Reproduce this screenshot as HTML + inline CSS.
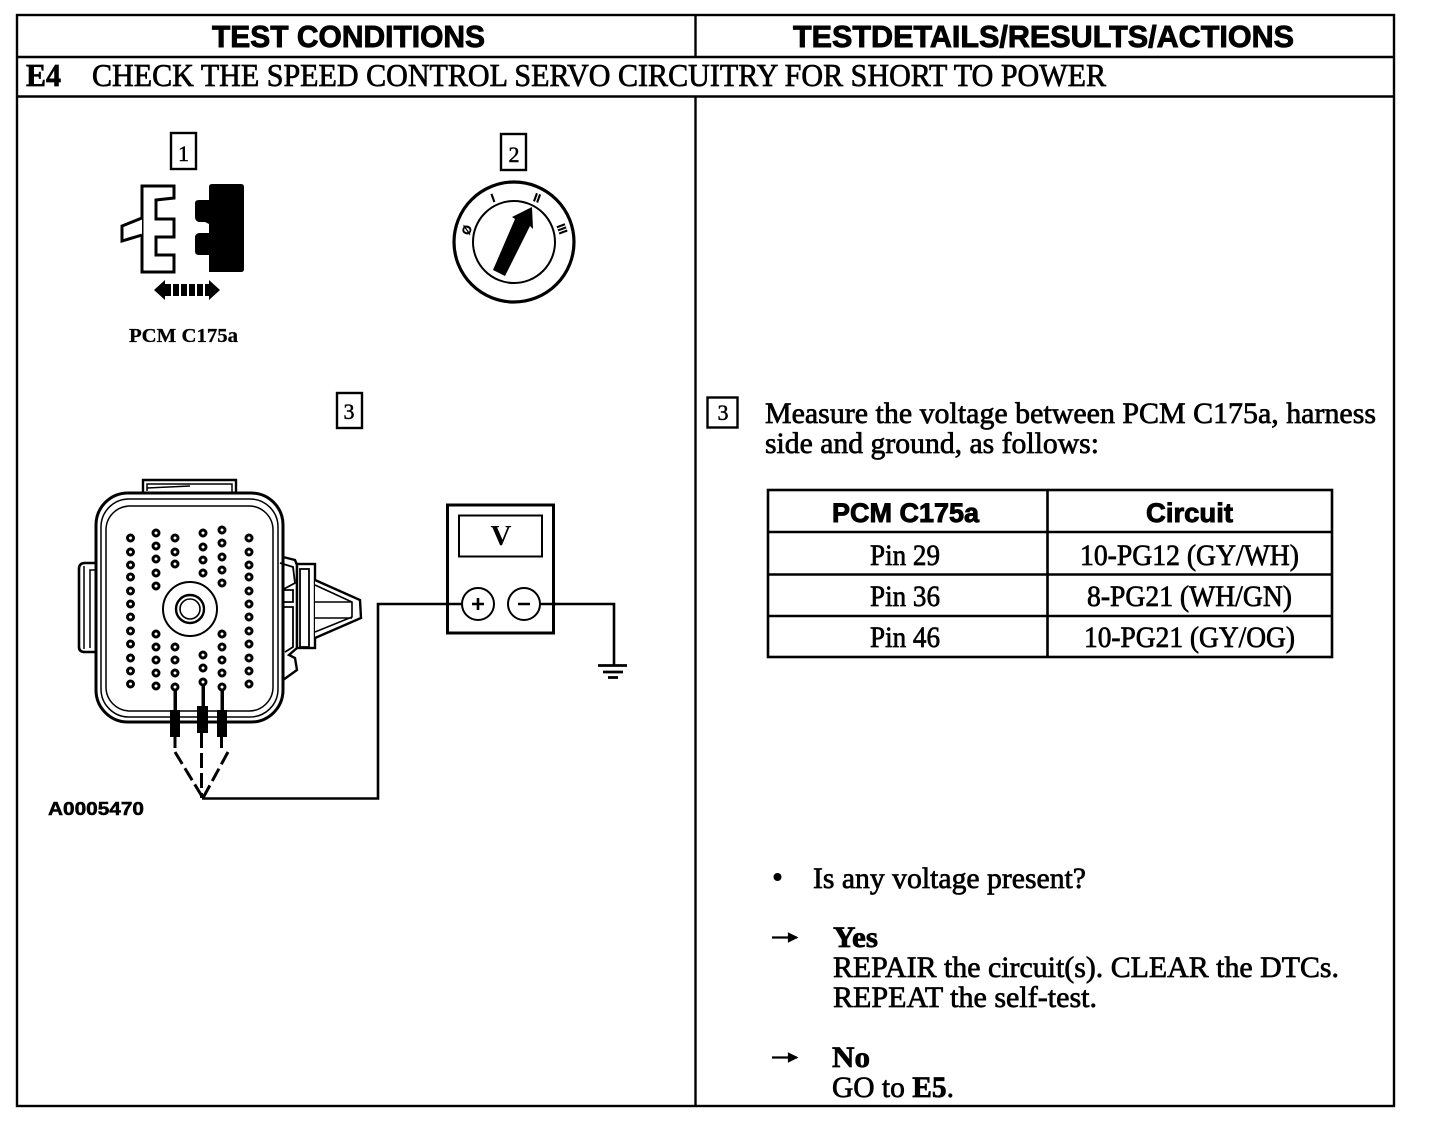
<!DOCTYPE html>
<html><head><meta charset="utf-8"><style>
html,body{margin:0;padding:0;background:#fff;width:1440px;height:1124px;overflow:hidden}
svg{display:block}
.s{font-family:"Liberation Serif",serif;font-size:30px;fill:#000;stroke:#000;stroke-width:.7}
.t{font-size:31.500px}
.h{font-family:"Liberation Sans",sans-serif;font-weight:700;font-size:31px;fill:#000;stroke:#000;stroke-width:.9}
.b{font-weight:700}
.d circle{fill:#fff;stroke:#000;stroke-width:3}
</style></head><body>
<svg width="1440" height="1124" viewBox="0 0 1440 1124" xmlns="http://www.w3.org/2000/svg">
<rect width="1440" height="1124" fill="#fff"/>
<g fill="none" stroke="#000" stroke-width="2.400">
<rect x="17" y="15" width="1377" height="1091"/>
<path d="M17 57H1394M17 96.500H1394M695.500 15V57M695.500 96V1106"/>
</g>
<text class="h" x="212" y="47" textLength="273" lengthAdjust="spacingAndGlyphs">TEST CONDITIONS</text>
<text class="h" x="793" y="47" textLength="501" lengthAdjust="spacingAndGlyphs">TESTDETAILS/RESULTS/ACTIONS</text>
<text class="s t b" x="26" y="86" textLength="35" lengthAdjust="spacingAndGlyphs">E4</text>
<text class="s t" x="92" y="86" textLength="1014" lengthAdjust="spacingAndGlyphs">CHECK THE SPEED CONTROL SERVO CIRCUITRY FOR SHORT TO POWER</text>

<!-- step boxes -->
<g fill="#fff" stroke="#000" stroke-width="2.400">
<rect x="171" y="133" width="25" height="36"/>
<rect x="501" y="134" width="25" height="36"/>
<rect x="337" y="393" width="25" height="35"/>
<rect x="707.500" y="397.500" width="30" height="30"/>
</g>
<g font-family="Liberation Serif,serif" font-size="22" text-anchor="middle" fill="#000" stroke="#000" stroke-width=".5">
<text x="183.500" y="161">1</text><text x="514" y="162">2</text><text x="349" y="419">3</text><text x="723" y="420">3</text>
</g>

<!-- connector 1 -->
<path d="M142 186H174V198L156 200V219H174V237H156V255H174V272H142Z" fill="#fff" stroke="#000" stroke-width="3"/>
<path d="M142 218L122 226V241L142 235" fill="#fff" stroke="#000" stroke-width="3"/>
<path d="M212 184H241Q244 184 244 187V269Q244 272 241 272H209V255H199Q195 255 195 251V237Q195 234 199 233H209V224L205 222H199Q195 221 195 217V203Q195 200 199 200H209V187Q209 184 212 184Z" fill="#000"/>
<path d="M154 290L165 280V300ZM220 290L209 280V300Z" fill="#000"/>
<path d="M165 290H209" stroke="#000" stroke-width="12" stroke-dasharray="6 2" fill="none"/>
<text class="s b" x="129" y="342" style="font-size:20px;stroke-width:.3" textLength="109" lengthAdjust="spacingAndGlyphs">PCM C175a</text>

<!-- ignition switch -->
<circle cx="514" cy="242" r="60" fill="#fff" stroke="#000" stroke-width="3.200"/>
<circle cx="514" cy="242" r="41" fill="none" stroke="#000" stroke-width="2"/>
<path d="M493 270L515 219 512 217 532 207 533 229 530 226 505 276Z" fill="#000"/>
<g font-family="Liberation Sans,sans-serif" font-size="12" font-weight="700" text-anchor="middle" fill="#000" stroke="#000" stroke-width=".4">
<text transform="translate(467 230) rotate(-70)" x="0" y="4">Ø</text>
<text transform="translate(493 198) rotate(-20)" x="0" y="4">I</text>
<text transform="translate(537 198) rotate(20)" x="0" y="4">II</text>
<text transform="translate(562 229) rotate(70)" x="0" y="4">III</text>
</g>

<!-- large connector -->
<g fill="none" stroke="#000">
<path d="M143 493V480H236V493" stroke-width="2.400"/>
<path d="M147 491V484H232V493M147 488L190 486" stroke-width="1.500"/>
<path d="M97 563H85Q79 563 79 569V647Q79 652 85 652H97" fill="#fff" stroke-width="2.600"/>
<path d="M84 566V649M96 570H90V648" stroke-width="1.500"/>
<path d="M283 557L295 560 297 565V648L289 655 295 658 297 670 283 680Z" fill="#fff" stroke-width="2.400"/>
<rect x="96" y="493" width="187" height="229" rx="32" fill="#fff" stroke-width="3"/>
<rect x="101" y="499" width="177" height="218" rx="28" stroke-width="1.500"/>
<rect x="106" y="506" width="167" height="205" rx="24" stroke-width="1.500"/>
<!-- right side latch -->
<path d="M280 563L293 567 295 583 282 590H293V602H283M283 607H293V647L285 652" stroke-width="1.800"/>
<rect x="297" y="564" width="18" height="84" fill="#fff" stroke-width="2.400"/>
<rect x="300" y="569" width="9" height="78" stroke-width="1.800"/>
<path d="M315 580L360 600 361 618 315 638" fill="#fff" stroke-width="2.400"/>
<path d="M315 585L352 602V617L315 632M315 602H352M315 618H352" stroke-width="1.600"/>
<circle cx="190" cy="609" r="27" fill="#fff" stroke-width="2"/>
<circle cx="190" cy="609" r="14" stroke-width="2.400"/>
<circle cx="190" cy="609" r="10" stroke-width="1.600"/>
</g>
<g class="d">
<circle cx="130.500" cy="538" r="3"/><circle cx="130.500" cy="552" r="3"/><circle cx="130.500" cy="565" r="3"/><circle cx="130.500" cy="577" r="3"/><circle cx="130.500" cy="591" r="3"/><circle cx="130.500" cy="604" r="3"/><circle cx="130.500" cy="617" r="3"/><circle cx="130.500" cy="631" r="3"/><circle cx="130.500" cy="644" r="3"/><circle cx="130.500" cy="658" r="3"/><circle cx="130.500" cy="671" r="3"/><circle cx="130.500" cy="684" r="3"/>
<circle cx="156" cy="533" r="3"/><circle cx="156" cy="546" r="3"/><circle cx="156" cy="559" r="3"/><circle cx="156" cy="573" r="3"/><circle cx="156" cy="586" r="3"/><circle cx="156" cy="634" r="3"/><circle cx="156" cy="647" r="3"/><circle cx="156" cy="660" r="3"/><circle cx="156" cy="673" r="3"/><circle cx="156" cy="686" r="3"/>
<circle cx="175" cy="538" r="3"/><circle cx="175" cy="552" r="3"/><circle cx="175" cy="564" r="3"/><circle cx="175" cy="647" r="3"/><circle cx="175" cy="660" r="3"/><circle cx="175" cy="673" r="3"/><circle cx="175" cy="687" r="3"/>
<circle cx="203" cy="533" r="3"/><circle cx="203" cy="547" r="3"/><circle cx="203" cy="560" r="3"/><circle cx="203" cy="573" r="3"/><circle cx="203" cy="655" r="3"/><circle cx="203" cy="668" r="3"/><circle cx="203" cy="682" r="3"/>
<circle cx="222" cy="530" r="3"/><circle cx="222" cy="543" r="3"/><circle cx="222" cy="557" r="3"/><circle cx="222" cy="570" r="3"/><circle cx="222" cy="583" r="3"/><circle cx="222" cy="634" r="3"/><circle cx="222" cy="647" r="3"/><circle cx="222" cy="660" r="3"/><circle cx="222" cy="673" r="3"/><circle cx="222" cy="687" r="3"/>
<circle cx="249" cy="538" r="3"/><circle cx="249" cy="552" r="3"/><circle cx="249" cy="565" r="3"/><circle cx="249" cy="577" r="3"/><circle cx="249" cy="591" r="3"/><circle cx="249" cy="604" r="3"/><circle cx="249" cy="617" r="3"/><circle cx="249" cy="631" r="3"/><circle cx="249" cy="644" r="3"/><circle cx="249" cy="658" r="3"/><circle cx="249" cy="671" r="3"/><circle cx="249" cy="684" r="3"/>
</g>
<!-- probes -->
<g fill="#000" stroke="none">
<rect x="173.500" y="691" width="3.500" height="20"/><rect x="201.500" y="686" width="3.500" height="20"/><rect x="220.500" y="691" width="3.500" height="20"/>
<rect x="170" y="710" width="10" height="27"/><rect x="197" y="706" width="11" height="27"/><rect x="217" y="710" width="10" height="27"/>
</g>
<g fill="none" stroke="#000" stroke-width="3">
<path d="M175 737V748M201.500 733V798M221.500 737V748" stroke-dasharray="15 5"/>
<path d="M175 752L203 798M228 752L203 798" stroke-dasharray="14 5"/>
<path d="M202 798.500H378V604H459M540 604H614V665" stroke-width="2.600"/>
<path d="M598 665.500H627" stroke-width="2.800"/><path d="M603 672H623" stroke-width="2.800"/><path d="M608 677.500H618" stroke-width="2.800"/>
</g>
<text x="48" y="815" font-family="Liberation Sans,sans-serif" font-weight="700" font-size="18" fill="#000" stroke="#000" stroke-width=".5" textLength="96" lengthAdjust="spacingAndGlyphs">A0005470</text>

<!-- meter -->
<rect x="447.500" y="505" width="106" height="128" fill="#fff" stroke="#000" stroke-width="3"/>
<rect x="459" y="515.500" width="83" height="41" fill="#fff" stroke="#000" stroke-width="2"/>
<text x="501" y="545" font-family="Liberation Serif,serif" font-weight="700" font-size="29" text-anchor="middle" fill="#000">V</text>
<path d="M446 604H462M538 604H556" stroke="#000" stroke-width="2.600"/>
<circle cx="478" cy="604" r="16" fill="#fff" stroke="#000" stroke-width="2"/>
<circle cx="524" cy="604" r="16" fill="#fff" stroke="#000" stroke-width="2"/>
<path d="M472 604H484M478 598V610M518 604H530" stroke="#000" stroke-width="2.600"/>

<!-- right body -->
<text class="s" x="765" y="423" textLength="611" lengthAdjust="spacingAndGlyphs">Measure the voltage between PCM C175a, harness</text>
<text class="s" x="765" y="453" textLength="334" lengthAdjust="spacingAndGlyphs">side and ground, as follows:</text>

<g fill="none" stroke="#000" stroke-width="2.600">
<rect x="768" y="490" width="564" height="167"/>
<path d="M1047.500 490V657M768 532H1332M768 574.500H1332M768 616H1332"/>
</g>
<text class="h" x="832" y="522" style="font-size:27px" textLength="147" lengthAdjust="spacingAndGlyphs">PCM C175a</text>
<text class="h" x="1146" y="522" style="font-size:27px" textLength="87" lengthAdjust="spacingAndGlyphs">Circuit</text>
<text class="s" x="870" y="565" textLength="70" lengthAdjust="spacingAndGlyphs">Pin 29</text>
<text class="s" x="870" y="606" textLength="70" lengthAdjust="spacingAndGlyphs">Pin 36</text>
<text class="s" x="870" y="647" textLength="70" lengthAdjust="spacingAndGlyphs">Pin 46</text>
<text class="s" x="1080" y="565" textLength="219" lengthAdjust="spacingAndGlyphs">10-PG12 (GY/WH)</text>
<text class="s" x="1087" y="606" textLength="205" lengthAdjust="spacingAndGlyphs">8-PG21 (WH/GN)</text>
<text class="s" x="1084" y="647" textLength="211" lengthAdjust="spacingAndGlyphs">10-PG21 (GY/OG)</text>

<circle cx="777.500" cy="877" r="4" fill="#000"/>
<text class="s" x="813" y="888" textLength="273" lengthAdjust="spacingAndGlyphs">Is any voltage present?</text>
<path d="M772 937.500H797M796 937.500L789 934V941Z" stroke="#000" stroke-width="2.200" fill="#000"/>
<text class="s b" x="833" y="947" textLength="45" lengthAdjust="spacingAndGlyphs">Yes</text>
<text class="s" x="833" y="977" textLength="506" lengthAdjust="spacingAndGlyphs">REPAIR the circuit(s). CLEAR the DTCs.</text>
<text class="s" x="833" y="1007" textLength="264" lengthAdjust="spacingAndGlyphs">REPEAT the self-test.</text>
<path d="M772 1057.500H797M796 1057.500L789 1054V1061Z" stroke="#000" stroke-width="2.200" fill="#000"/>
<text class="s b" x="832" y="1067" textLength="38" lengthAdjust="spacingAndGlyphs">No</text>
<text class="s" x="832" y="1097" textLength="122" lengthAdjust="spacingAndGlyphs">GO to <tspan class="b">E5</tspan>.</text>
</svg>
</body></html>
